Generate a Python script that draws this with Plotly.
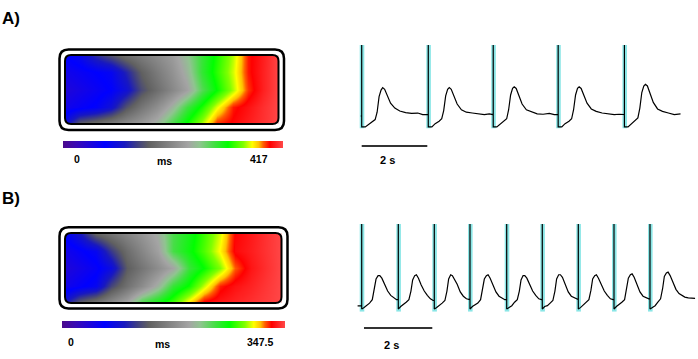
import plotly.graph_objects as go

W, H = 698, 359
FONT = "Arial, Liberation Sans, sans-serif"

# ---------------- data ----------------
# activation maps (ms), rows listed top -> bottom, columns left -> right
map_cols = [0, 0.071, 0.143, 0.214, 0.286, 0.357, 0.429, 0.5, 0.571, 0.643, 0.714, 0.786, 0.857, 0.929, 1.0]
map_rows = [1.0, 0.75, 0.5, 0.25, 0.0]
map_a_ms = [
    [79, 94, 130, 154, 178, 194, 211, 228, 257, 291, 319, 349, 389, 402, 417],
    [63, 71, 79, 88, 123, 163, 192, 217, 248, 293, 323, 353, 389, 403, 417],
    [50, 60, 70, 80, 105, 148, 178, 206, 234, 281, 314, 348, 385, 403, 417],
    [63, 73, 83, 106, 153, 186, 214, 247, 288, 319, 356, 389, 398, 408, 417],
    [104, 164, 180, 196, 211, 226, 249, 285, 317, 349, 388, 394, 402, 409, 417],
]
map_b_ms = [
    [69.5, 97.3, 141.1, 155.7, 170.3, 185.2, 203.6, 236.3, 252.6, 272.1, 294.3, 327.3, 333.9, 340.9, 347.5],
    [52.1, 62.6, 74.5, 114.0, 147.3, 170.6, 194.6, 238.0, 256.1, 275.6, 300.2, 329.1, 335.0, 341.2, 347.5],
    [41.7, 51.4, 61.5, 81.7, 133.8, 155.3, 176.9, 198.1, 241.9, 261.3, 285.0, 316.9, 332.6, 340.2, 347.5],
    [52.1, 62.9, 74.0, 120.9, 151.5, 176.2, 205.9, 243.6, 263.1, 292.9, 323.5, 331.5, 336.7, 342.3, 347.5],
    [97.3, 137.6, 157.4, 176.5, 199.1, 239.4, 257.2, 274.5, 304.8, 330.1, 333.6, 337.1, 340.6, 344.0, 347.5],
]
map_a_max = 417
map_b_max = 347.5
cbar_a_labels = ["0", "ms", "417"]
cbar_b_labels = ["0", "ms", "347.5"]

cs_stops = [0, 0.06, 0.19, 0.28, 0.34, 0.39, 0.57, 0.62, 0.69, 0.75, 0.82, 0.86, 0.89, 0.91, 0.94, 1.0]
cs_colors = ["#4b0a8c", "#3a0ab4", "#0000ff", "#1818c0", "#404080", "#606060", "#a4a4a4", "#90c490",
             "#40e040", "#00ff00", "#80ff00", "#ffff00", "#ffc000", "#ff6000", "#ff0000", "#ff4848"]

# optical traces (time in s, normalised signal)
a_stim_t = [0, 2.03, 4.01, 5.99, 8.01]
a_start = (-0.03, 0.134)
a_art_top, a_art_bottom = 1.0, 0.0
a_beat_off = [0.11, 0.21, 0.33, 0.41, 0.47, 0.53, 0.59, 0.64, 0.70, 0.79, 0.88, 1.01, 1.16, 1.34, 1.52, 1.71, 1.86, 1.97]
a_beats = [
    [0.0, 0.03, 0.06, 0.09, 0.18, 0.37, 0.45, 0.48, 0.46, 0.38, 0.29, 0.23, 0.195, 0.175, 0.165, 0.17, 0.15, 0.15],
    [0.0, 0.04, 0.07, 0.10, 0.20, 0.38, 0.46, 0.48, 0.46, 0.37, 0.28, 0.21, 0.18, 0.17, 0.16, 0.15, 0.16, 0.15],
    [0.0, 0.03, 0.07, 0.10, 0.21, 0.39, 0.47, 0.49, 0.47, 0.38, 0.28, 0.21, 0.185, 0.16, 0.155, 0.165, 0.15, 0.15],
    [0.0, 0.04, 0.07, 0.10, 0.21, 0.39, 0.47, 0.49, 0.47, 0.38, 0.29, 0.22, 0.19, 0.17, 0.16, 0.15, 0.155, 0.15],
    [0.0, 0.04, 0.08, 0.11, 0.23, 0.42, 0.50, 0.52, 0.50, 0.40, 0.30, 0.22, 0.19, 0.17, 0.15, 0.16],
]
b_stim_t = [0, 1.072, 2.126, 3.171, 4.246, 5.288, 6.343, 7.388, 8.442]
b_start = (-0.12, 0.047)
b_art_top, b_art_bottom = 1.0, 0.01
b_beat_off = [0.07, 0.15, 0.23, 0.31, 0.37, 0.42, 0.48, 0.53, 0.59, 0.67, 0.76, 0.85, 0.94, 1.02, 1.12, 1.22, 1.32]
b_beats = [
    [0.03, 0.05, 0.08, 0.12, 0.23, 0.36, 0.40, 0.40, 0.37, 0.30, 0.22, 0.17, 0.14, 0.12],
    [0.04, 0.06, 0.09, 0.12, 0.22, 0.35, 0.40, 0.41, 0.37, 0.29, 0.22, 0.17, 0.13, 0.11],
    [0.03, 0.05, 0.08, 0.11, 0.22, 0.36, 0.41, 0.40, 0.36, 0.30, 0.21, 0.16, 0.13, 0.12],
    [0.04, 0.06, 0.08, 0.12, 0.23, 0.36, 0.40, 0.41, 0.37, 0.29, 0.21, 0.16, 0.14, 0.12],
    [0.03, 0.05, 0.09, 0.12, 0.22, 0.35, 0.40, 0.40, 0.37, 0.30, 0.22, 0.17, 0.13, 0.12],
    [0.04, 0.05, 0.08, 0.11, 0.22, 0.36, 0.41, 0.41, 0.38, 0.30, 0.21, 0.16, 0.14, 0.12],
    [0.03, 0.06, 0.09, 0.12, 0.23, 0.36, 0.40, 0.41, 0.37, 0.29, 0.22, 0.17, 0.13, 0.12],
    [0.04, 0.06, 0.09, 0.12, 0.24, 0.37, 0.41, 0.42, 0.38, 0.30, 0.21, 0.16, 0.14, 0.13],
    [0.03, 0.05, 0.09, 0.13, 0.25, 0.39, 0.43, 0.44, 0.40, 0.32, 0.24, 0.19, 0.17, 0.15, 0.14, 0.135, 0.135],
]
scale_bar_s = 2
scale_label = "2 s"


# ---------------- helpers ----------------
def px(x):
    return x / W


def py(y):
    return 1 - y / H


def build_trace(start, stims, top, bottom, offs, beats):
    xs, ys = [start[0]], [start[1]]
    for s, vals in zip(stims, beats):
        xs += [s, s, s]
        ys += [ys[-1], top, bottom]
        for o, v in zip(offs, vals):
            xs.append(s + o)
            ys.append(v)
    return xs, ys


def rrect_path(x0, y0, x1, y1, r):
    rx, ry = r / W, r / H
    X0, X1, Y0, Y1 = px(x0), px(x1), py(y0), py(y1)
    return (f"M {X0+rx},{Y0} L {X1-rx},{Y0} Q {X1},{Y0} {X1},{Y0-ry} "
            f"L {X1},{Y1+ry} Q {X1},{Y1} {X1-rx},{Y1} L {X0+rx},{Y1} "
            f"Q {X0},{Y1} {X0},{Y1+ry} L {X0},{Y0-ry} Q {X0},{Y0} {X0+rx},{Y0} Z")


def corner_masks(x0, y0, x1, y1, r):
    rx, ry = r / W, r / H
    X0, X1, Y0, Y1 = px(x0), px(x1), py(y0), py(y1)
    paths = [
        f"M {X0},{Y0-ry} L {X0},{Y0} L {X0+rx},{Y0} Q {X0},{Y0} {X0},{Y0-ry} Z",
        f"M {X1-rx},{Y0} L {X1},{Y0} L {X1},{Y0-ry} Q {X1},{Y0} {X1-rx},{Y0} Z",
        f"M {X1},{Y1+ry} L {X1},{Y1} L {X1-rx},{Y1} Q {X1},{Y1} {X1},{Y1+ry} Z",
        f"M {X0+rx},{Y1} L {X0},{Y1} L {X0},{Y1+ry} Q {X0},{Y1} {X0+rx},{Y1} Z",
    ]
    return [dict(type="path", path=p, xref="paper", yref="paper", fillcolor="white",
                 line=dict(width=0), layer="above") for p in paths]


colorscale = [[s, c] for s, c in zip(cs_stops, cs_colors)]

fig = go.Figure()

# panel geometry (pixels)
A_MAP_IN = (65, 55, 278.5, 124)
A_MAP_OUT = (59.5, 49.5, 284, 130)
B_MAP_IN = (65, 233, 281.5, 303)
B_MAP_OUT = (59.5, 227.3, 287.5, 308.5)


def cbar(x0, x1, ytop):
    return dict(orientation="h", x=px(x0), xanchor="left", y=py(ytop), yanchor="top",
                len=x1 - x0, lenmode="pixels", thickness=7, thicknessmode="pixels",
                outlinewidth=0, showticklabels=False, ticks="", xpad=0, ypad=0)


fig.add_trace(go.Heatmap(z=map_a_ms, x=map_cols, y=map_rows, zmin=0, zmax=map_a_max,
                         colorscale=colorscale, zsmooth="best", xaxis="x", yaxis="y",
                         colorbar=cbar(63, 283, 141), hoverinfo="skip"))
fig.add_trace(go.Heatmap(z=map_b_ms, x=map_cols, y=map_rows, zmin=0, zmax=map_b_max,
                         colorscale=colorscale, zsmooth="best", xaxis="x3", yaxis="y3",
                         colorbar=cbar(62, 285, 321), hoverinfo="skip"))

ax_, ay_ = build_trace(a_start, a_stim_t, a_art_top, a_art_bottom, a_beat_off, a_beats)
bx_, by_ = build_trace(b_start, b_stim_t, b_art_top, b_art_bottom, b_beat_off, b_beats)
fig.add_trace(go.Scatter(x=ax_, y=ay_, mode="lines", line=dict(color="black", width=1.2),
                         xaxis="x2", yaxis="y2", hoverinfo="skip", showlegend=False))
fig.add_trace(go.Scatter(x=bx_, y=by_, mode="lines", line=dict(color="black", width=1.2),
                         xaxis="x4", yaxis="y4", hoverinfo="skip", showlegend=False))

hidden = dict(visible=False, fixedrange=True)
A_PXS = 32.8   # px per s, panel A trace
B_PXS = 34.15  # px per s, panel B trace
A_T0, B_T0 = 361.7, 361.7

fig.update_layout(
    width=W, height=H, autosize=False, margin=dict(l=0, r=0, t=0, b=0),
    paper_bgcolor="white", plot_bgcolor="rgba(0,0,0,0)", showlegend=False,
    font=dict(family=FONT, color="black"),
    xaxis=dict(domain=[px(A_MAP_IN[0]), px(A_MAP_IN[2])], range=[0, 1], **hidden),
    yaxis=dict(domain=[py(A_MAP_IN[3]), py(A_MAP_IN[1])], range=[0, 1], **hidden),
    xaxis3=dict(domain=[px(B_MAP_IN[0]), px(B_MAP_IN[2])], range=[0, 1], **hidden),
    yaxis3=dict(domain=[py(B_MAP_IN[3]), py(B_MAP_IN[1])], range=[0, 1], **hidden),
    xaxis2=dict(domain=[px(355), px(695)], range=[(355 - A_T0) / A_PXS, (695 - A_T0) / A_PXS], **hidden),
    yaxis2=dict(domain=[py(128.6), py(45)], range=[-0.02, 1.0], **hidden),
    xaxis4=dict(domain=[px(355), px(697)], range=[(355 - B_T0) / B_PXS, (697 - B_T0) / B_PXS], **hidden),
    yaxis4=dict(domain=[py(311.7), py(224)], range=[-0.02, 1.0], **hidden),
)

shapes = []
# stimulus artefact highlights
for s in a_stim_t:
    shapes.append(dict(type="rect", xref="x2", yref="y2", x0=s - 2.0 / A_PXS, x1=s + 2.6 / A_PXS,
                       y0=-0.02, y1=1.0, fillcolor="#8ae6e6", line=dict(width=0), layer="below"))
for s in b_stim_t:
    shapes.append(dict(type="rect", xref="x4", yref="y4", x0=s - 2.0 / B_PXS, x1=s + 2.6 / B_PXS,
                       y0=-0.02, y1=1.0, fillcolor="#8ae6e6", line=dict(width=0), layer="below"))
# scale bars
shapes.append(dict(type="line", xref="x2", yref="paper", x0=0, x1=scale_bar_s, y0=py(146), y1=py(146),
                   line=dict(color="#333333", width=2)))
shapes.append(dict(type="line", xref="x4", yref="paper", x0=0.067, x1=0.067 + scale_bar_s, y0=py(328), y1=py(328),
                   line=dict(color="#333333", width=2)))
# map frames
shapes += corner_masks(*A_MAP_IN, 6)
shapes += corner_masks(*B_MAP_IN, 6)
for inner, outer in ((A_MAP_IN, A_MAP_OUT), (B_MAP_IN, B_MAP_OUT)):
    shapes.append(dict(type="path", path=rrect_path(*outer, 9), xref="paper", yref="paper",
                       line=dict(color="black", width=2.5), layer="above"))
    shapes.append(dict(type="path", path=rrect_path(*inner, 6), xref="paper", yref="paper",
                       line=dict(color="black", width=2), layer="above"))
fig.update_layout(shapes=shapes)


def label(text, x, y, size, bold=True):
    fig.add_annotation(text=f"<b>{text}</b>" if bold else text, x=px(x), y=py(y), xref="paper", yref="paper",
                       showarrow=False, xanchor="center", yanchor="middle",
                       font=dict(family=FONT, size=size, color="black"))


label("A)", 10.5, 18, 17)
label("B)", 10.5, 199, 17)
for t, x, y in zip(cbar_a_labels, [77, 164.5, 259], [159, 161, 159]):
    label(t, x, y, 10.5)
for t, x, y in zip(cbar_b_labels, [71, 162, 260], [342, 344, 342]):
    label(t, x, y, 10.5)
label(scale_label, 387.5, 160, 11)
label(scale_label, 391, 345, 11)

fig.write_html("out.html", config={"displayModeBar": False, "staticPlot": True},
               post_script="document.body.style.margin='0';document.body.style.overflow='hidden';")
